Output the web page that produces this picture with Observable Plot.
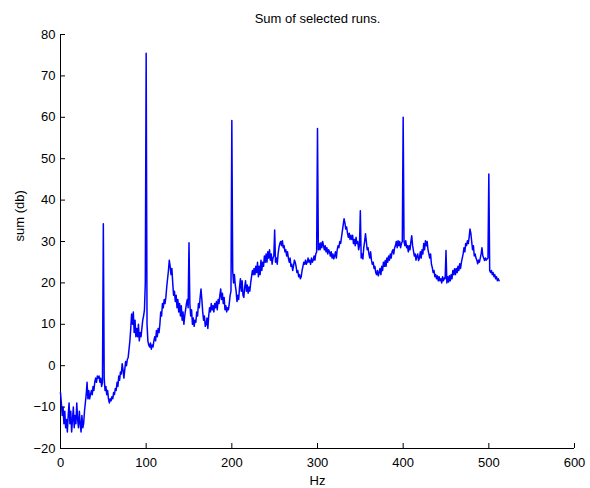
<!DOCTYPE html>
<html>
<head>
<meta charset="utf-8">
<script src="https://cdn.jsdelivr.net/npm/d3@7"></script>
<script src="https://cdn.jsdelivr.net/npm/@observablehq/plot@0.6"></script>
<style>
  html, body { margin: 0; padding: 0; background: #fff; }
</style>
</head>
<body>
<div id="chart"></div>
<script>
const title = "Sum of selected runs.";
const xLabel = "Hz";
const yLabel = "sum (db)";
const xTicks = [0, 100, 200, 300, 400, 500, 600];
const yTicks = [-20, -10, 0, 10, 20, 30, 40, 50, 60, 70, 80];

// start frequency of the series (Hz) and step (Hz per value)
const hzStart = 0;
const hzStep = 1;
// summed level (db), one value per Hz from 0 to 512
const sumDb = [
  -6.5, -9, -12, -10, -14, -11, -15, -13, -16, -12,
  -9, -14, -11, -16, -13, -10, -15, -12, -14, -9,
  -13, -15, -11, -14, -16, -12, -15, -14, -11, -9,
  -7, -4, -8, -6, -8, -7, -6, -7, -5, -6,
  -4, -3, -4, -2.5, -3, -2.5, -4, -3, -5, -4,
  34.3, -3, -6, -5, -7, -6, -8, -9, -8, -8.5,
  -7.5, -8, -6.5, -7, -5.5, -6, -4, -5, -2.5, -3.5,
  -1.5, -2, 0.5, -1, -3, -1, 1, 0, 1.5, 2,
  4, 6, 9, 12.5, 10, 13, 8, 11, 7, 9,
  7, 10, 6, 8, 7, 9, 11, 12, 13.5, 20,
  75.5, 10, 6, 5, 4.5, 5.5, 4, 5, 4.5, 6,
  7, 6, 8.5, 7, 9, 8, 10, 13, 12, 15,
  14, 16, 15, 16.5, 19, 21, 23, 25.5, 24, 22,
  23.5, 20, 17, 18, 15.5, 17, 14, 16, 13, 15,
  12, 14.5, 11, 13, 10, 12, 13.5, 15, 16, 14,
  29.7, 15, 12, 13.5, 10, 11.5, 9.5, 11, 10.5, 13,
  12, 15, 14, 16.5, 18.5, 16, 13, 11, 12, 9.5,
  10, 11.5, 9, 12, 14, 13, 15, 13.5, 14.5, 13,
  15, 14, 15.5, 13.5, 16, 15, 17, 18.5, 16, 17.5,
  15, 16.5, 13.5, 14.5, 13, 14, 13.5, 15, 17, 18,
  59.2, 23, 20, 22, 19.5, 18, 15.5, 17, 16, 19,
  21, 18, 20.5, 17, 16.5, 19, 20.5, 18, 19.5, 17.5,
  19, 18, 20, 21.5, 23, 22, 23.5, 22, 24, 22.5,
  25, 21.5, 24, 22, 25.5, 23, 25, 24, 26.5, 25,
  27, 25, 27.5, 26, 28, 25.5, 27, 24.5, 26, 26.5,
  32.8, 25, 26, 24.5, 27, 28.5, 29.5, 30, 29, 30.2,
  28.5, 29, 27.5, 28, 26.5, 27.5, 26, 25, 26, 24,
  24.5, 23, 24, 25.5, 25, 24, 22.5, 23, 21.5, 22,
  21, 21.5, 23, 24, 25, 24.5, 25.5, 24.5, 25, 26,
  25, 25.5, 24.5, 26, 25, 25.5, 26.5, 25.5, 27, 27.5,
  57.3, 28, 29.5, 28, 29.7, 28.5, 30, 29, 28, 29,
  27.5, 28.5, 27, 28, 27.5, 26.5, 27.5, 26, 27, 25.8,
  26.5, 27.5, 26, 28, 29, 28.5, 30, 29.5, 31, 32.5,
  34, 35.5, 34.5, 33, 33.5, 32, 31, 32, 30.5, 31.5,
  30.5, 31.5, 29.5, 30.5, 29, 31, 29.5, 30, 28, 29,
  37.4, 26, 27, 25.8, 28.5, 30, 31.9, 30, 28, 28.5,
  27, 26, 27.5, 25.5, 24.5, 25, 23.5, 24, 22.5, 22,
  23, 21.7, 22.5, 23.5, 22, 24, 23, 25, 24, 25.4,
  24, 26, 25, 26.5, 25.5, 27, 26, 27.5, 28, 27,
  28.5, 29, 30, 28.5, 30.2, 29, 30, 28.5, 29.5, 30,
  60, 30, 29, 30.2, 28.5, 29, 27.5, 29, 28, 30,
  31.4, 29, 27.8, 26.5, 27, 25.5, 26.5, 27, 25.4, 26,
  27.5, 26, 28, 27, 29.5, 28, 30.2, 29, 30, 28,
  27, 26, 27, 24.5, 23.7, 22.5, 23, 21.5, 22, 21,
  21.7, 20.5, 21.5, 20.5, 21, 20, 21.5, 20.5, 21.2, 21,
  27.8, 20, 21.5, 20.2, 21.7, 20.5, 22, 21, 23, 22,
  23.4, 22, 23.5, 22.5, 24, 23, 24.6, 23.5, 25, 26,
  27, 28.5, 27.5, 29.5, 29, 30.2, 29.5, 31, 33, 32,
  30, 28, 29, 26.5, 27, 26, 25.5, 24.6, 25.5, 25,
  26, 27, 28.5, 26.5, 26, 25.4, 26, 25.5, 25.8, 26,
  46.3, 23, 22.5, 23, 22, 22.5, 21.5, 22, 21, 21.5,
  20.5, 21, 20.5
];

const data = sumDb.map((v, i) => ({hz: hzStart + i * hzStep, db: v}));

const W = 590, H = 488;
const mL = 60, mR = 16, mT = 34, mB = 40;
const frameW = W - mL - mR, frameH = H - mT - mB;
const tickLen = 5;
const font = "'Liberation Sans', Arial, Helvetica, sans-serif";

const chart = Plot.plot({
  width: W,
  height: H,
  marginLeft: mL,
  marginRight: mR,
  marginTop: mT,
  marginBottom: mB,
  style: {fontFamily: font, fontSize: "13px", color: "#000", background: "#fff", overflow: "visible"},
  x: {domain: [0, 600], ticks: xTicks, label: null},
  y: {domain: [-20, 80], ticks: yTicks, label: null},
  marks: [
    Plot.axisX(xTicks, {tickSize: 0, tickPadding: 9, label: null, fontSize: 13}),
    Plot.axisY(yTicks, {tickSize: 0, tickPadding: 5, label: null, fontSize: 13}),
    Plot.tickX(xTicks, {x: d => d, insetTop: frameH - tickLen, stroke: "#000", strokeWidth: 1}),
    Plot.tickY(yTicks, {y: d => d, insetRight: frameW - tickLen, stroke: "#000", strokeWidth: 1}),
    Plot.ruleY([-20], {stroke: "#000", strokeWidth: 1}),
    Plot.ruleX([0], {stroke: "#000", strokeWidth: 1}),
    Plot.line(data, {x: "hz", y: "db", stroke: "#0000ff", strokeWidth: 1.5}),
    Plot.text([title], {frameAnchor: "top", dy: -16, fontSize: 13, fill: "#000", lineAnchor: "middle"}),
    Plot.text([xLabel], {frameAnchor: "bottom", dy: 32, fontSize: 13, fill: "#000", lineAnchor: "middle"}),
    Plot.text([yLabel], {frameAnchor: "left", dx: -41, rotate: -90, fontSize: 13, fill: "#000", lineAnchor: "middle"})
  ]
});
document.getElementById("chart").appendChild(chart);
</script>
</body>
</html>
